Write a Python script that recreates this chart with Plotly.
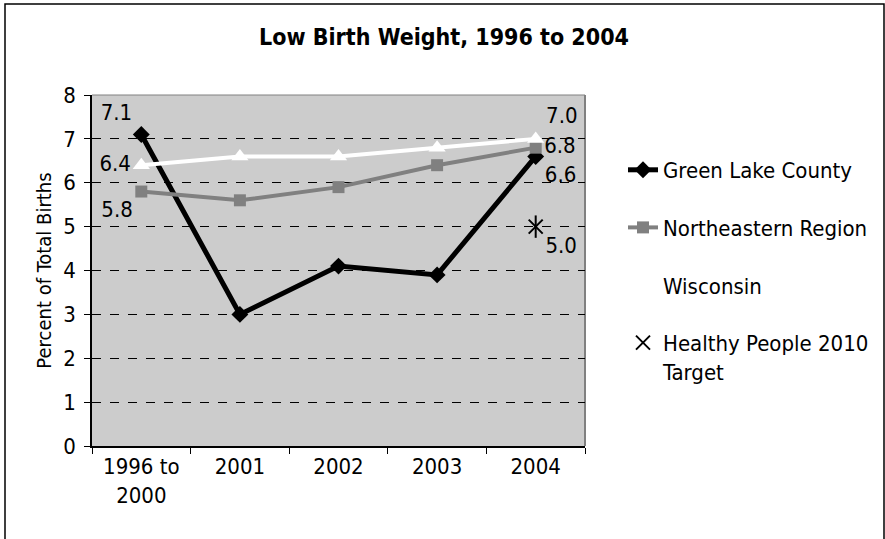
import plotly.graph_objects as go

categories = ["1996 to<br>2000", "2001", "2002", "2003", "2004"]
green_lake = [7.1, 3.0, 4.1, 3.9, 6.6]
northeastern = [5.8, 5.6, 5.9, 6.4, 6.8]
wisconsin = [6.4, 6.6, 6.6, 6.8, 7.0]
hp_category = ["2004"]
hp_target = [5.0]

FONT = "DejaVu Sans Condensed, DejaVu Sans, sans-serif"
FS = 22


def end_labels(vals):
    return [f"{v:.1f}" if i in (0, len(vals) - 1) else "" for i, v in enumerate(vals)]


def positions(first, last, n):
    return [first] + ["middle center"] * (n - 2) + [last]


fig = go.Figure()

fig.add_trace(go.Scatter(
    x=categories, y=green_lake, name="Green Lake County", legendgroup="g1",
    mode="lines+markers+text", text=end_labels(green_lake),
    textposition=positions("top left", "bottom right", len(green_lake)),
    textfont=dict(size=FS, color="black", family=FONT),
    line=dict(color="black", width=5),
    marker=dict(symbol="diamond", size=13, color="black"),
))
fig.add_trace(go.Scatter(
    x=categories, y=northeastern, name="Northeastern Region", legendgroup="g2",
    mode="lines+markers+text", text=end_labels(northeastern),
    textposition=positions("bottom left", "middle right", len(northeastern)),
    textfont=dict(size=FS, color="black", family=FONT),
    line=dict(color="#808080", width=4),
    marker=dict(symbol="square", size=12, color="#808080"),
))
fig.add_trace(go.Scatter(
    x=categories, y=wisconsin, name="Wisconsin", legendgroup="g3",
    mode="lines+markers+text", text=end_labels(wisconsin),
    textposition=positions("middle left", "top right", len(wisconsin)),
    textfont=dict(size=FS, color="black", family=FONT),
    line=dict(color="white", width=4),
    marker=dict(symbol="triangle-up", size=15, color="white"),
))
fig.add_trace(go.Scatter(
    x=[categories[4]], y=hp_target, name="Healthy People 2010<br>Target", legendgroup="g4",
    mode="markers+text", text=[f"{v:.1f}" for v in hp_target],
    textposition="bottom right",
    textfont=dict(size=FS, color="black", family=FONT),
    marker=dict(symbol="x-thin-open", size=14, color="black", line=dict(color="black", width=2)),
))
fig.add_trace(go.Scatter(
    x=[categories[4]], y=hp_target, showlegend=False, legendgroup="g4",
    mode="markers", hoverinfo="skip",
    marker=dict(symbol="line-ns-open", size=16, color="black", line=dict(color="black", width=2)),
))

L, R, T, B = 92, 300, 95, 93
W, H = 885, 539
pw = W - L - R
ph = H - T - B

fig.update_layout(
    width=W, height=H,
    margin=dict(l=L, r=R, t=T, b=B, autoexpand=False),
    paper_bgcolor="white",
    plot_bgcolor="#CCCCCC",
    font=dict(family=FONT, size=FS, color="black"),
    title=dict(text="<b>Low Birth Weight, 1996 to 2004</b>", x=444 / W, xanchor="center",
               y=1 - 37 / H, yanchor="middle", font=dict(size=23, family=FONT, color="black")),
    legend=dict(x=(623 - L) / pw, xanchor="left", y=(H - B - 149) / ph, yanchor="top",
                font=dict(size=FS, family=FONT, color="black"),
                tracegroupgap=26, valign="top", bgcolor="rgba(0,0,0,0)"),
    showlegend=True,
)

fig.update_xaxes(
    type="category", range=[-0.5, 4.5],
    showline=True, linecolor="black", linewidth=1.5,
    ticks="outside", tickson="boundaries", ticklen=6, tickcolor="black",
    showgrid=False, tickfont=dict(size=FS, family=FONT),
)
fig.update_yaxes(
    range=[0, 8], dtick=1, tick0=0,
    showline=True, linecolor="black", linewidth=1.5,
    ticks="outside", ticklen=6, tickcolor="black", ticklabelstandoff=4,
    showgrid=True, gridcolor="black", griddash="dash", gridwidth=1,
    zeroline=False, tickfont=dict(size=FS, family=FONT),
    title=dict(text="Percent of Total Births", font=dict(size=20, family=FONT), standoff=6),
)

# plot area border (right and top, gray)
fig.add_shape(type="line", xref="paper", yref="paper", x0=1, x1=1, y0=0, y1=1,
              line=dict(color="#808080", width=2), layer="below")
fig.add_shape(type="line", xref="paper", yref="paper", x0=0, x1=1, y0=1, y1=1,
              line=dict(color="#808080", width=1), layer="below")
# chart outer border
fig.add_shape(type="rect", xref="paper", yref="paper",
              x0=(5 - L) / pw, x1=(884 - L) / pw, y0=(H - B - 560) / ph, y1=(H - B - 4) / ph,
              line=dict(color="black", width=1.5), fillcolor="rgba(0,0,0,0)", layer="below")

fig.write_html("out.html", config={"displayModeBar": False},
               post_script="document.body.style.margin='0';")
